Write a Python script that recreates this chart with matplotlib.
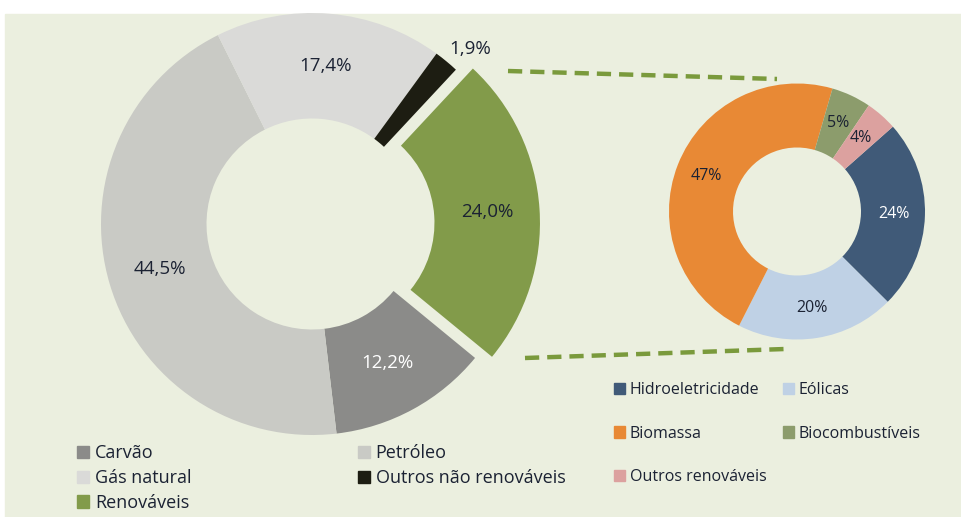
import numpy as np
import matplotlib
matplotlib.use("Agg")
import matplotlib.pyplot as plt
from matplotlib.patches import Rectangle, Patch

plt.rcParams['font.family'] = ['Open Sans', 'DejaVu Sans']

# main donut
fontes = ["Carvão", "Petróleo", "Gás natural", "Outros não renováveis", "Renováveis"]
fontes_pct = [12.2, 44.5, 17.4, 1.9, 24.0]
fontes_cores = ["#8b8b89", "#c9cac5", "#dadad8", "#1d1d12", "#829b4a"]

# renewables breakdown
renov = ["Hidroeletricidade", "Eólicas", "Biomassa", "Biocombustíveis", "Outros renováveis"]
renov_pct = [24, 20, 47, 5, 4]
renov_cores = ["#405a78", "#bfd1e5", "#e88935", "#8c9c6c", "#dca19f"]

bg = "#ebefdf"
txt = "#1b2233"
W, H = 961, 517

fig = plt.figure(figsize=(W / 100, H / 100), dpi=100)
fig.patch.set_facecolor("white")
ax = fig.add_axes([0, 0, 1, 1])
ax.add_patch(Rectangle((5, 0), W - 5, H - 14, color=bg, zorder=0))

# big donut (explode is in data units here, i.e. pixels)
R1 = 211
c1 = (312, H - 224)
w1, t1, a1 = ax.pie(fontes_pct, colors=fontes_cores, radius=R1, center=c1,
                    startangle=-39.4, counterclock=False,
                    explode=[0, 0, 0, 0, 17],
                    wedgeprops=dict(width=R1 * 0.5, linewidth=0),
                    autopct=lambda p: f"{p:.1f}%".replace(".", ","),
                    pctdistance=0.75,
                    textprops=dict(fontsize=13.5, color=txt))
a1[0].set_color("white")
# small slice label sits outside the ring
ang = np.deg2rad((w1[3].theta1 + w1[3].theta2) / 2 - 2.5)
a1[3].set_position((c1[0] + 1.12 * R1 * np.cos(ang), c1[1] + 1.12 * R1 * np.sin(ang)))

# small donut
R2 = 128
c2 = (797, H - 211.5)
w2, t2, a2 = ax.pie(renov_pct, colors=renov_cores, radius=R2, center=c2,
                    startangle=41.5, counterclock=False,
                    wedgeprops=dict(width=R2 * 0.5, linewidth=0),
                    autopct="%.0f%%", pctdistance=0.76,
                    textprops=dict(fontsize=11.5, color=txt))
a2[0].set_color("white")

# connector lines
ax.plot([508, 777], [H - 71, H - 79], color="#7a9a3c", lw=3.2, ls=(0, (3.2, 1.8)))
ax.plot([525, 785], [H - 358, H - 349], color="#7a9a3c", lw=3.2, ls=(0, (3.2, 1.8)))

ax.set_xlim(0, W)
ax.set_ylim(0, H)
ax.set_aspect("auto")
ax.axis("off")

# legends
order1 = [0, 2, 4, 1, 3]
h1 = [Patch(color=fontes_cores[i], label=fontes[i]) for i in order1]
leg1 = fig.legend(handles=h1, loc="upper left", bbox_to_anchor=(77 / W, 1 - 444.5 / H),
                  ncol=2, frameon=False, fontsize=13, handlelength=0.67, handleheight=0.67,
                  handletextpad=0.33, labelspacing=0.37, columnspacing=9.2,
                  borderpad=0, borderaxespad=0, labelcolor=txt)

order2 = [0, 2, 4, 1, 3]
h2 = [Patch(color=renov_cores[i], label=renov[i]) for i in order2]
leg2 = fig.legend(handles=h2, loc="upper left", bbox_to_anchor=(614 / W, 1 - 382 / H),
                  ncol=2, frameon=False, fontsize=11.5, handlelength=0.7, handleheight=0.7,
                  handletextpad=0.3, labelspacing=1.73, columnspacing=1.0,
                  borderpad=0, borderaxespad=0, labelcolor=txt)

fig.savefig("out.png", dpi=100, facecolor="white")
